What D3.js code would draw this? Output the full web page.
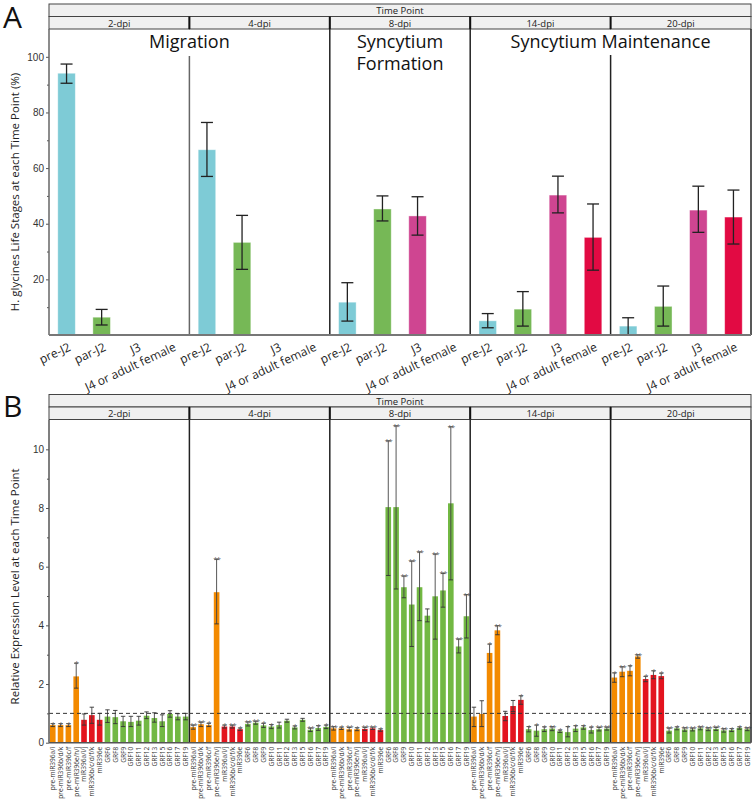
<!DOCTYPE html>
<html><head><meta charset="utf-8">
<script src="https://cdn.jsdelivr.net/npm/d3@7"></script>
<style>body{margin:0;background:#fff}svg{display:block;font-family:"Open Sans","Noto Sans",sans-serif}</style>
</head><body><svg id="c" width="754" height="802"></svg>
<script>
// ---------- DATA ----------
const timePoints = ["2-dpi","4-dpi","8-dpi","14-dpi","20-dpi"];
const stages = ["pre-J2","par-J2","J3","J4 or adult female"];
const stageColors = ["#7ECBD6","#76B856","#CF4591","#E20A43"];
const stageMean = [[94.1,6.4,0,0],[66.6,33.3,0,0],[11.8,45.3,42.8,0],[5.1,9.3,50.3,35.1],[3.2,10.3,44.9,42.4]];
const stageLow  = [[90.5,3.6,null,null],[57.0,23.6,null,null],[5.0,41.0,35.9,null],[2.6,3.2,43.9,23.3],[0,3.2,36.9,32.7]];
const stageHigh = [[97.4,9.2,null,null],[76.4,43.0,null,null],[18.8,50.0,49.7,null],[7.7,15.6,57.1,47.1],[6.2,17.6,53.5,52.1]];
const phaseLabels = [["Migration"],["Syncytium","Formation"],["Syncytium Maintenance"]];
const stageTicks = [20,40,60,80,100];

const genes = ["pre-miR396a/i","pre-miR396b/d/k","pre-miR396c/f","pre-miR396e/h/j","miR396a/i/j","miR396b/c/d/f/k","miR396e","GRF6","GRF8","GRF9","GRF10","GRF11","GRF12","GRF13","GRF15","GRF16","GRF17","GRF19"];
const geneGroup = ["pre","pre","pre","pre","mir","mir","mir","grf","grf","grf","grf","grf","grf","grf","grf","grf","grf","grf"];
const groupColors = {pre:"#F38A00", mir:"#E3141E", grf:"#72B843"};
const exprMean = [
 [0.60,0.60,0.60,2.26,0.78,0.94,0.78,0.89,0.87,0.73,0.71,0.75,0.92,0.84,0.73,0.98,0.89,0.89],
 [0.53,0.63,0.60,5.13,0.55,0.55,0.46,0.64,0.68,0.59,0.55,0.60,0.75,0.52,0.78,0.44,0.50,0.54],
 [0.49,0.49,0.46,0.46,0.47,0.49,0.43,8.03,8.03,5.30,4.71,5.30,4.33,4.99,5.19,8.16,3.28,4.31],
 [0.89,0.98,3.06,3.83,0.91,1.25,1.46,0.46,0.41,0.46,0.48,0.39,0.36,0.48,0.52,0.43,0.46,0.48],
 [2.22,2.42,2.45,2.94,2.17,2.31,2.27,0.41,0.49,0.45,0.45,0.49,0.46,0.47,0.42,0.43,0.50,0.46]];
const exprLow = [
 [0.55,0.55,0.55,1.86,0.60,0.66,0.60,0.69,0.65,0.55,0.55,0.60,0.82,0.70,0.55,0.87,0.78,0.78],
 [0.46,0.55,0.55,4.05,0.50,0.50,0.42,0.57,0.63,0.52,0.48,0.50,0.70,0.47,0.73,0.38,0.42,0.48],
 [0.43,0.45,0.40,0.41,0.42,0.45,0.39,5.70,5.24,4.94,3.28,4.16,4.12,3.53,4.62,5.55,3.06,3.57],
 [0.55,0.55,2.74,3.68,0.75,1.06,1.31,0.37,0.22,0.38,0.41,0.35,0.20,0.38,0.46,0.33,0.40,0.43],
 [2.06,2.25,2.28,2.88,2.08,2.18,2.18,0.33,0.44,0.39,0.40,0.44,0.41,0.42,0.36,0.38,0.46,0.41]];
const exprHigh = [
 [0.65,0.65,0.65,2.71,0.98,1.21,1.00,1.12,1.10,0.90,0.90,0.90,1.05,1.02,0.95,1.09,0.99,1.00],
 [0.60,0.70,0.66,6.25,0.60,0.60,0.50,0.71,0.73,0.66,0.62,0.70,0.80,0.57,0.83,0.50,0.58,0.60],
 [0.55,0.53,0.52,0.51,0.52,0.53,0.47,10.29,10.80,5.68,6.19,6.50,4.56,6.43,5.77,10.77,3.53,5.05],
 [1.21,1.43,3.36,3.99,1.07,1.44,1.60,0.55,0.60,0.54,0.55,0.43,0.55,0.58,0.58,0.53,0.52,0.53],
 [2.38,2.59,2.62,3.00,2.26,2.45,2.37,0.50,0.54,0.51,0.50,0.54,0.51,0.52,0.48,0.48,0.54,0.51]];
const exprSig = [
 ["*","*","*","*","","","","","","","","","","","","","",""],
 ["**","**","*","**","*","**","*","**","**","*","*","","","*","","**","*","*"],
 ["**","*","**","*","**","**","*","**","**","**","**","**","","**","**","**","**","**"],
 ["","","*","**","","","*","*","*","*","**","*","*","*","*","*","**","**"],
 ["*","**","*","**","*","*","*","**","*","**","**","**","**","**","**","*","*","**"]];
const exprTicks = [2,4,6,8,10];

// ---------- LAYOUT ----------
const svg = d3.select("#c");
const X0 = 49, X1 = 751;
const facetX = d3.scaleBand().domain(timePoints).range([X0, X1]).padding(0);
const fw = facetX.bandwidth();

function strips(top){
  const g = svg.append("g");
  g.append("rect").attr("x",X0).attr("y",top).attr("width",X1-X0).attr("height",12.5)
   .attr("fill","#f0f0f0").attr("stroke","#444").attr("stroke-width",1);
  g.append("text").attr("x",(X0+X1)/2).attr("y",top+10).attr("text-anchor","middle")
   .attr("font-size",9.5).attr("fill","#222").text("Time Point");
  timePoints.forEach(tp=>{
    const x = facetX(tp);
    g.append("rect").attr("x",x).attr("y",top+12.5).attr("width",fw).attr("height",12.5)
     .attr("fill","#f0f0f0").attr("stroke","#444").attr("stroke-width",1);
    g.append("text").attr("x",x+fw/2).attr("y",top+22.5).attr("text-anchor","middle")
     .attr("font-size",9.5).attr("fill","#222").text(tp);
  });
  timePoints.slice(1).forEach(tp=>{
    g.append("line").attr("x1",facetX(tp)).attr("x2",facetX(tp)).attr("y1",top+12.5).attr("y2",top+25)
     .attr("stroke","#111").attr("stroke-width",2);
  });
}

// ---------- PANEL A ----------
const aTop = 29, aBot = 335;
strips(4);
const yA = d3.scaleLinear().domain([0,110]).range([aBot,aTop]);
const xA = d3.scaleBand().domain(stages).range([0,fw]).paddingInner(0.5).paddingOuter(0.25);

svg.append("line").attr("x1",facetX("4-dpi")).attr("x2",facetX("4-dpi")).attr("y1",56).attr("y2",aBot).attr("stroke","#666").attr("stroke-width",1.5);
svg.append("line").attr("x1",facetX("8-dpi")).attr("x2",facetX("8-dpi")).attr("y1",aTop).attr("y2",aBot).attr("stroke","#222").attr("stroke-width",1.5);
svg.append("line").attr("x1",facetX("14-dpi")).attr("x2",facetX("14-dpi")).attr("y1",aTop).attr("y2",aBot).attr("stroke","#222").attr("stroke-width",1.5);
svg.append("line").attr("x1",facetX("20-dpi")).attr("x2",facetX("20-dpi")).attr("y1",55).attr("y2",aBot).attr("stroke","#222").attr("stroke-width",1.5);
svg.append("line").attr("x1",X1).attr("x2",X1).attr("y1",aTop).attr("y2",aBot).attr("stroke","#222").attr("stroke-width",1.5);

const phaseCenters = [facetX("4-dpi"), facetX("8-dpi")+fw/2, facetX("20-dpi")];
phaseLabels.forEach((lines,i)=>{
  lines.forEach((t,j)=>{
    svg.append("text").attr("x",phaseCenters[i]).attr("y",48+j*22).attr("text-anchor","middle")
      .attr("font-size",18).attr("fill","#111").text(t);
  });
});

timePoints.forEach((tp,fi)=>{
  const g = svg.append("g").attr("transform",`translate(${facetX(tp)},0)`);
  stages.forEach((s,si)=>{
    const v = stageMean[fi][si];
    if (v>0){
      g.append("rect").attr("x",xA(s)).attr("width",xA.bandwidth()).attr("y",yA(v)).attr("height",yA(0)-yA(v))
        .attr("fill",stageColors[si]).attr("stroke","#fff").attr("stroke-opacity",0.5).attr("stroke-width",0.8);
    }
    const lo = stageLow[fi][si], hi = stageHigh[fi][si];
    const cx = xA(s)+xA.bandwidth()/2;
    if (lo!==null){
      g.append("line").attr("x1",cx).attr("x2",cx).attr("y1",yA(lo)).attr("y2",yA(hi)).attr("stroke","#222").attr("stroke-width",1.3);
      [lo,hi].forEach(e=>g.append("line").attr("x1",cx-6).attr("x2",cx+6).attr("y1",yA(e)).attr("y2",yA(e)).attr("stroke","#222").attr("stroke-width",1.3));
    }
    g.append("text").attr("transform",`translate(${cx+5},350) rotate(-25)`).attr("text-anchor","end")
      .attr("font-size",12).attr("fill","#222").text(s);
  });
});
const axA = svg.append("g").attr("transform",`translate(${X0},0)`)
  .call(d3.axisLeft(yA).tickValues(stageTicks).tickSize(3).tickPadding(2));
axA.select(".domain").remove();
axA.selectAll("text").attr("font-size",10).attr("fill","#333").attr("font-family","inherit");
axA.selectAll("line").attr("stroke","#555");
svg.append("g").attr("transform",`translate(${X0},0)`)
  .call(d3.axisLeft(yA).tickValues([10,30,50,70,90]).tickSize(2).tickFormat(""))
  .call(g=>{g.select(".domain").remove();g.selectAll("line").attr("stroke","#555");});
svg.append("line").attr("x1",X0).attr("x2",X0).attr("y1",aTop).attr("y2",aBot).attr("stroke","#666").attr("stroke-width",1.5);
svg.append("line").attr("x1",X0).attr("x2",X1).attr("y1",aBot).attr("y2",aBot).attr("stroke","#777").attr("stroke-width",1.8);
svg.append("text").attr("transform",`translate(19,${(aTop+aBot)/2+10}) rotate(-90)`).attr("text-anchor","middle")
  .attr("font-size",11.5).attr("fill","#222").text("H. glycines Life Stages at each Time Point (%)");
svg.append("text").attr("x",3).attr("y",28).attr("font-size",30).attr("fill","#111").text("A");

// ---------- PANEL B ----------
const bTop = 420, bBot = 742.7;
strips(394.5);
const yB = d3.scaleLinear().domain([0,11]).range([bBot,bTop]);
const xB = d3.scaleBand().domain(genes).range([0,fw]).paddingInner(0.28).paddingOuter(0.12);

timePoints.forEach((tp,fi)=>{
  const g = svg.append("g").attr("transform",`translate(${facetX(tp)},0)`);
  genes.forEach((gname,gi)=>{
    const v = exprMean[fi][gi];
    const x = xB(gname), bw = xB.bandwidth(), cx = x+bw/2;
    g.append("rect").attr("x",x).attr("width",bw).attr("y",yB(v)).attr("height",yB(0)-yB(v))
      .attr("fill",groupColors[geneGroup[gi]]);
    const lo = exprLow[fi][gi], hi = exprHigh[fi][gi];
    g.append("line").attr("x1",cx).attr("x2",cx).attr("y1",yB(lo)).attr("y2",yB(hi)).attr("stroke","#444").attr("stroke-width",0.9);
    [lo,hi].forEach(e=>g.append("line").attr("x1",cx-2.2).attr("x2",cx+2.2).attr("y1",yB(e)).attr("y2",yB(e)).attr("stroke","#333").attr("stroke-width",0.9));
    const s = exprSig[fi][gi];
    if (s) g.append("text").attr("x",cx).attr("y",yB(hi)+3).attr("text-anchor","middle")
      .attr("font-size",8).attr("fill","#666").attr("letter-spacing",-1).text(s);
    g.append("text").attr("transform",`translate(${cx+2.4},${bBot+4}) rotate(-90)`).attr("text-anchor","end")
      .attr("font-size",6.6).attr("fill","#333").text(gname);
  });
});
timePoints.slice(1).forEach(tp=>{
  svg.append("line").attr("x1",facetX(tp)).attr("x2",facetX(tp)).attr("y1",bTop).attr("y2",bBot).attr("stroke","#222").attr("stroke-width",1.5);
});
svg.append("line").attr("x1",X1).attr("x2",X1).attr("y1",bTop).attr("y2",bBot).attr("stroke","#222").attr("stroke-width",1.5);
svg.append("line").attr("x1",X0).attr("x2",X1).attr("y1",yB(1)).attr("y2",yB(1)).attr("stroke","#333").attr("stroke-width",1).attr("stroke-dasharray","4,3");
const axB = svg.append("g").attr("transform",`translate(${X0},0)`)
  .call(d3.axisLeft(yB).tickValues([0].concat(exprTicks)).tickSize(3).tickPadding(2));
axB.select(".domain").remove();
axB.selectAll("text").attr("font-size",10).attr("fill","#333").attr("font-family","inherit");
axB.selectAll("line").attr("stroke","#555");
svg.append("g").attr("transform",`translate(${X0},0)`)
  .call(d3.axisLeft(yB).tickValues([1,3,5,7,9]).tickSize(2).tickFormat(""))
  .call(g=>{g.select(".domain").remove();g.selectAll("line").attr("stroke","#555");});
svg.append("line").attr("x1",X0).attr("x2",X0).attr("y1",bTop).attr("y2",bBot).attr("stroke","#555").attr("stroke-width",1.5);
svg.append("line").attr("x1",X0).attr("x2",X1).attr("y1",bBot).attr("y2",bBot).attr("stroke","#555").attr("stroke-width",1.5);
svg.append("text").attr("transform",`translate(19,${(bTop+bBot)/2+5}) rotate(-90)`).attr("text-anchor","middle")
  .attr("font-size",11.5).attr("fill","#222").text("Relative Expression Level at each Time Point");
svg.append("text").attr("x",3).attr("y",417).attr("font-size",30).attr("fill","#111").text("B");
</script></body></html>
